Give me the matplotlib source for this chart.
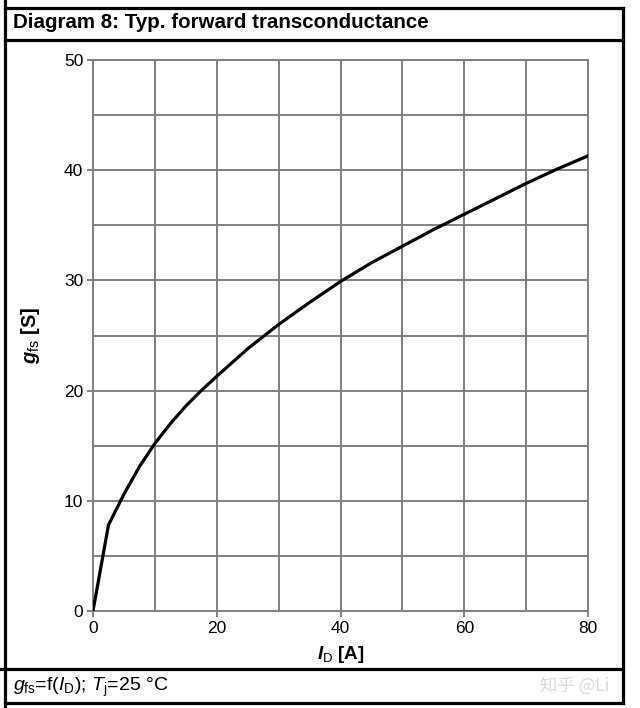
import matplotlib
matplotlib.use("Agg")
import matplotlib.pyplot as plt
from matplotlib.lines import Line2D

# data
i_d = [0, 2.5, 5, 7.5, 10, 12.5, 15, 17.5, 20, 25, 30, 35, 40, 45, 50, 55, 60, 65, 70, 75, 80]
g_fs = [0, 7.8, 10.6, 13.1, 15.2, 17.0, 18.6, 20.0, 21.3, 23.8, 26.0, 28.0, 29.9,
        31.6, 33.1, 34.6, 36.0, 37.4, 38.8, 40.1, 41.3]
x_ticks = [0, 20, 40, 60, 80]
y_ticks = [0, 10, 20, 30, 40, 50]

plt.rcParams['font.family'] = ['Liberation Sans', 'DejaVu Sans']
plt.rcParams['mathtext.fontset'] = 'custom'
plt.rcParams['mathtext.rm'] = 'Liberation Sans'
plt.rcParams['mathtext.it'] = 'Liberation Sans:italic'
plt.rcParams['mathtext.bf'] = 'Liberation Sans:bold'
plt.rcParams['mathtext.bfit'] = 'Liberation Sans:italic:bold'

W, H = 640, 708
fig = plt.figure(figsize=(W / 100, H / 100), dpi=100)
ax = fig.add_axes([93 / W, 1 - 611 / H, (588 - 93) / W, (611 - 60) / H])

ax.plot(i_d, g_fs, color='black', lw=2.3, solid_joinstyle='round', zorder=3)

ax.set_xlim(0, 80)
ax.set_ylim(0, 50)
ax.set_xticks(x_ticks)
ax.set_yticks(y_ticks)
ax.set_xticks(range(0, 81, 10), minor=True)
ax.set_yticks(range(0, 51, 5), minor=True)
ax.grid(True, which='both', color='#808080', lw=1.4)
ax.tick_params(which='major', direction='out', length=4, width=1.4, color='#808080',
               labelsize=12.5, pad=3)
ax.tick_params(which='minor', length=0)
for s in ax.spines.values():
    s.set_color('#808080')
    s.set_linewidth(1.4)

ax.set_xlabel(r'$\mathbfit{I}_{\mathrm{D}}$ [A]', fontsize=13.5, fontweight='bold', labelpad=6)
ax.set_ylabel(r'$\mathbfit{g}_{\mathrm{fs}}$ [S]', fontsize=14.5, fontweight='bold', labelpad=16)


def px(x, y):
    return x / W, 1 - y / H


# table frame
lw = 2.3
for (x0, y0, x1, y1) in [(5, 8, 623, 8), (5, 40, 623, 40), (0, 669, 623, 669),
                         (5, 703, 623, 703), (5, 0, 5, 708), (623, 8, 623, 703)]:
    a, b = px(x0, y0)
    c, d = px(x1, y1)
    fig.add_artist(Line2D([a, c], [b, d], color='black', lw=lw, solid_capstyle='projecting'))

fig.text(*px(13, 23), 'Diagram 8: Typ. forward transconductance', fontsize=14.8,
         fontweight='bold', va='center', ha='left')
fig.text(*px(13, 687), r'$g_{\mathrm{fs}}$=f($I_{\mathrm{D}}$); $T_{\mathrm{j}}$=25 °C',
         fontsize=14, va='center', ha='left')
fig.text(*px(540, 686), '知乎 @Li', fontsize=12.5, color='#d9d9d9', va='center', ha='left',
         family=['Noto Sans CJK SC', 'DejaVu Sans'])

fig.savefig('out.png', dpi=100, facecolor='white')
